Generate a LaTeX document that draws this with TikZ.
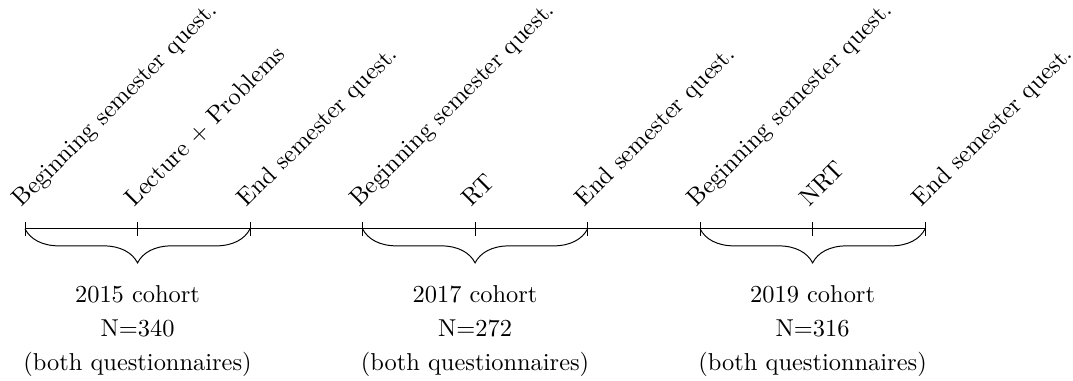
\documentclass[tikz,border=0pt]{standalone}
\usetikzlibrary{calc}
\usetikzlibrary{decorations.pathreplacing}
\begin{document}
\begin{tikzpicture}
    \useasboundingbox (0,0) rectangle (15.44,5.48);

    % Tick positions on the time line, change the spacing here
    \foreach \i in {0,...,8} {
        \coordinate (t\i) at ({0.36+1.619*\i},2.187);
    }
    \draw (t0) -- (t8);
    \foreach \i in {0,...,8} {
        \draw ($(t\i)+(0,0.1)$) -- ($(t\i)-(0,0.1)$);
    }

    % Labels above the ticks
    \begin{scope}[every node/.style={rotate=45,anchor=base west,inner sep=0pt}]
    \node (q0) at ($(t0)+(-0.05,0.30)$) {Beginning semester quest.};
    \node (q1) at ($(t1)+(-0.05,0.30)$) {Lecture $+$ Problems};
    \node (q2) at ($(t2)+(-0.05,0.30)$) {End semester quest.};
    \node (q3) at ($(t3)+(-0.05,0.30)$) {Beginning semester quest.};
    \node (q4) at ($(t4)+(-0.05,0.30)$) {RT};
    \node (q5) at ($(t5)+(-0.05,0.30)$) {End semester quest.};
    \node (q6) at ($(t6)+(-0.05,0.30)$) {Beginning semester quest.};
    \node (q7) at ($(t7)+(-0.05,0.30)$) {NRT};
    \node (q8) at ($(t8)+(-0.05,0.30)$) {End semester quest.};
    \end{scope}

    % Braces under each cohort
    \begin{scope}[decoration={brace,mirror,amplitude=0.49cm}]
    \draw[decorate] (t0) -- (t2);
    \draw[decorate] (t3) -- (t5);
    \draw[decorate] (t6) -- (t8);
    \end{scope}

    % Cohort texts
    \begin{scope}[every node/.style={align=center}]
    \node (c1) at ($(t1)+(0,-1.467)$) {2015 cohort\\[1.9pt] N$=$340\\[1.9pt] (both questionnaires)};
    \node (c2) at ($(t4)+(0,-1.467)$) {2017 cohort\\[1.9pt] N$=$272\\[1.9pt] (both questionnaires)};
    \node (c3) at ($(t7)+(0,-1.467)$) {2019 cohort\\[1.9pt] N$=$316\\[1.9pt] (both questionnaires)};
    \end{scope}

\end{tikzpicture}
\end{document}
